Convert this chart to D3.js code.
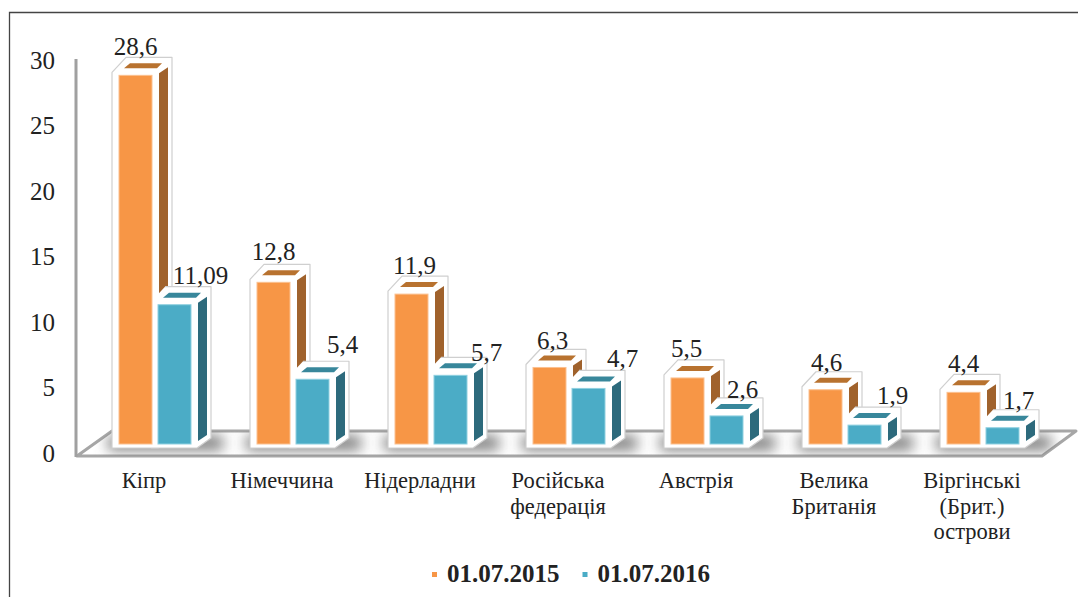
<!DOCTYPE html>
<html>
<head>
<meta charset="utf-8">
<script src="https://cdn.jsdelivr.net/npm/d3@7/dist/d3.min.js"></script>
<style>
html, body { margin: 0; padding: 0; background: #fff; overflow: hidden; }
text { font-family: "Liberation Serif", serif; fill: #222; }
</style>
</head>
<body>
<div id="chart"></div>
<script>
var w = 1078;
var h = 597;

// data
var categories = ["Кіпр", "Німеччина", "Нідерладни", "Російська федерація", "Австрія", "Велика Британія", "Віргінські (Брит.) острови"];
var categoryLines = [["Кіпр"], ["Німеччина"], ["Нідерладни"], ["Російська", "федерація"], ["Австрія"], ["Велика", "Британія"], ["Віргінські", "(Брит.)", "острови"]];
var seriesNames = ["01.07.2015", "01.07.2016"];
var values2015 = [28.6, 12.8, 11.9, 6.3, 5.5, 4.6, 4.4];
var values2016 = [11.09, 5.4, 5.7, 4.7, 2.6, 1.9, 1.7];
var yTicks = [0, 5, 10, 15, 20, 25, 30];

// hand placed data labels, same as the original
var labelNudge2015 = [[0, -20], [0, -22], [3, -20], [3, -18], [-1, -21], [1, -19], [0, -20]];
var labelNudge2016 = [[26, -21], [30, -26], [36, -14], [34, -21], [16, -18], [28, -21], [16, -19]];

var colors = {
    "01.07.2015": { front: "#F79646", side: "#A0622C", top: "#B8722F", edge: "#FBC08F" },
    "01.07.2016": { front: "#4BACC6", side: "#2D6A7C", top: "#38879B", edge: "#8FD0E0" }
};

var svg = d3.select("#chart")
    .append("svg")
    .attr("width", w)
    .attr("height", h);

var defs = svg.append("defs");
defs.append("filter").attr("id", "blur")
    .attr("x", "-30%").attr("y", "-100%").attr("width", "160%").attr("height", "300%")
    .append("feGaussianBlur").attr("stdDeviation", 7);

var x0 = d3.scaleBand().domain(categories).range([75, 1041]);
var x1 = d3.scaleBand().domain(seriesNames).range([44, 116]).paddingInner(6 / 39);
var y = d3.scaleLinear().domain([0, 30]).range([453, 60]);

var barShift = -3;   // bars stand a bit behind the axis plane
var floorY = y(0) - 9;

var line = d3.line().curve(d3.curveLinearClosed);
var openLine = d3.line();

// outer frame
svg.append("path")
    .attr("d", "M9.5," + h + "V12.5H" + w)
    .attr("fill", "none")
    .attr("stroke", "#444")
    .attr("stroke-width", 1.3);

// floor
var floorPts = [[77, 456], [112, 431], [1076, 431], [1042, 456]];
defs.append("clipPath").attr("id", "floorClip")
    .append("path").attr("d", line(floorPts));

svg.append("path")
    .attr("d", line(floorPts))
    .attr("fill", "#fff")
    .attr("stroke", "#a6a6a6")
    .attr("stroke-width", 3)
    .attr("stroke-linejoin", "round");

// shadows on the floor
svg.append("g")
    .attr("clip-path", "url(#floorClip)")
    .selectAll("rect")
    .data(categories)
    .enter()
    .append("rect")
    .attr("x", function(d) { return x0(d) + 33; })
    .attr("y", floorY - 8)
    .attr("width", 115)
    .attr("height", 14)
    .attr("fill", "#777")
    .attr("filter", "url(#blur)");

// y axis line and labels
svg.append("line")
    .attr("x1", 76).attr("x2", 76)
    .attr("y1", y(30) - 1).attr("y2", 457)
    .attr("stroke", "#a0a0a0")
    .attr("stroke-width", 3);

var yAxis = d3.axisLeft(y).tickValues(yTicks).tickSize(0).tickPadding(21);
var yG = svg.append("g").attr("transform", "translate(76,0)").call(yAxis);
yG.select(".domain").remove();
yG.selectAll("text").style("font-size", "25px").style("font-family", "'Liberation Serif', serif").attr("fill", "#222");

// one bar with its white bevel, second bar of a pair has no left edge line
function drawBar(sel, d, second) {
    var bx = d.x, by = d.y, bw = d.w, b = floorY, c = colors[d.s];
    var g = sel.append("g");
    var hull = [[bx - 7, by - 3], [bx + 7, by - 18], [bx + 53, by - 18], [bx + 53, b - 6], [bx + 39, b + 4], [bx - 7, b + 4]];
    g.append("path")
        .attr("d", line(hull))
        .attr("fill", "#fff");
    g.append("path")
        .attr("d", second ? openLine(hull.slice(1)) : line(hull))
        .attr("fill", "none")
        .attr("stroke", "#cfcfcf")
        .attr("stroke-width", 1.2)
        .attr("stroke-linejoin", "round");
    g.append("path")
        .attr("d", line([[bx + 40, by - 2], [bx + 49, by - 8], [bx + 49, b - 9], [bx + 40, b - 3]]))
        .attr("fill", c.side);
    g.append("path")
        .attr("d", line([[bx + 5, by - 7], [bx + 38, by - 7], [bx + 43, by - 12], [bx + 11, by - 12]]))
        .attr("fill", c.top);
}

function drawFront(sel, d) {
    var c = colors[d.s];
    sel.append("rect")
        .attr("x", d.x).attr("y", d.y)
        .attr("width", d.w).attr("height", floorY - d.y)
        .attr("fill", c.front)
        .attr("stroke", c.edge)
        .attr("stroke-width", 1);
}

var barsG = svg.append("g");
categories.forEach(function(cat, i) {
    var a = { s: seriesNames[0], x: x0(cat) + x1(seriesNames[0]), y: y(values2015[i]) + barShift, w: x1.bandwidth() };
    var b = { s: seriesNames[1], x: x0(cat) + x1(seriesNames[1]), y: y(values2016[i]) + barShift, w: x1.bandwidth() };
    drawBar(barsG, a, false);
    drawBar(barsG, b, true);
    drawFront(barsG, a);
    drawFront(barsG, b);
});

// value labels
function fmt(v) { return String(v).replace(".", ","); }

function addLabels(values, name, nudge) {
    svg.append("g").selectAll("text")
        .data(values)
        .enter()
        .append("text")
        .attr("x", function(d, i) { return x0(categories[i]) + x1(name) + x1.bandwidth() / 2 + nudge[i][0]; })
        .attr("y", function(d, i) { return y(d) + barShift + nudge[i][1]; })
        .attr("text-anchor", "middle")
        .style("font-size", "25px")
        .text(fmt);
}
addLabels(values2015, seriesNames[0], labelNudge2015);
addLabels(values2016, seriesNames[1], labelNudge2016);

// category labels
var catG = svg.append("g");
categories.forEach(function(cat, i) {
    var t = catG.append("text")
        .attr("text-anchor", "middle")
        .style("font-size", "22.5px");
    categoryLines[i].forEach(function(l, k) {
        t.append("tspan")
            .attr("x", x0(cat) + x0.bandwidth() / 2)
            .attr("y", 488 + k * 25.5)
            .text(l);
    });
});

// legend
var legendX = d3.scaleOrdinal().domain(seriesNames).range([432, 582.5]);
var legend = svg.append("g").selectAll("g")
    .data(seriesNames)
    .enter()
    .append("g")
    .attr("transform", function(d) { return "translate(" + legendX(d) + ",0)"; });
legend.append("rect")
    .attr("y", 572).attr("width", 5).attr("height", 5)
    .attr("fill", function(d) { return colors[d].front; });
legend.append("text")
    .attr("x", 15).attr("y", 582)
    .style("font-size", "25px")
    .style("font-weight", "bold")
    .text(function(d) { return d; });
</script>
</body>
</html>
